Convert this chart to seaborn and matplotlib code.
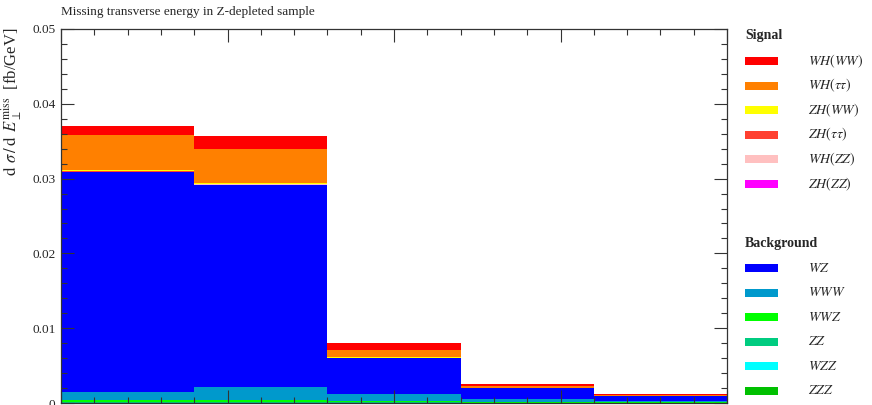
import numpy as np
import pandas as pd
import matplotlib
matplotlib.use("Agg")
import matplotlib.pyplot as plt
from matplotlib.patches import Rectangle
from matplotlib.ticker import MultipleLocator
import seaborn as sns

# ---- data ----
bin_edges = [0, 40, 80, 120, 160, 200]
bin_centres = [20, 60, 100, 140, 180]

signal_names = ["$WH(WW)$", "$WH(\\tau\\tau)$", "$ZH(WW)$", "$ZH(\\tau\\tau)$", "$WH(ZZ)$", "$ZH(ZZ)$"]
background_names = ["$WZ$", "$WWW$", "$WWZ$", "$ZZ$", "$WZZ$", "$ZZZ$"]

WH_WW = [0.00110, 0.00174, 0.00089, 0.00026, 0.00013]
WH_tautau = [0.00471, 0.00449, 0.00097, 0.00021, 0.00013]
ZH_WW = [0.00020, 0.00015, 0.00003, 0.00001, 0.000005]
ZH_tautau = [0.00005, 0.00004, 0.00001, 0.000005, 0.000003]
WH_ZZ = [0.00008, 0.00006, 0.00002, 0.00001, 0.000005]
ZH_ZZ = [0.000005, 0.000005, 0.000002, 0.000001, 0.000001]

WZ = [0.02941, 0.02703, 0.00484, 0.00147, 0.00066]
WWW = [0.00098, 0.00172, 0.00093, 0.00040, 0.00013]
WWZ = [0.00032, 0.00032, 0.00019, 0.00012, 0.00010]
ZZ = [0.00009, 0.00009, 0.00005, 0.00003, 0.00002]
WZZ = [0.00001, 0.00001, 0.00001, 0.000005, 0.000005]
ZZZ = [0.00003, 0.00003, 0.00002, 0.00001, 0.00001]

signal_values = [WH_WW, WH_tautau, ZH_WW, ZH_tautau, WH_ZZ, ZH_ZZ]
background_values = [WZ, WWW, WWZ, ZZ, WZZ, ZZZ]

signal_colors = ["#ff0000", "#ff8000", "#ffff00", "#ff4030", "#ffc0c0", "#ff00ff"]
background_colors = ["#0000ff", "#0099cc", "#00ff00", "#00cc80", "#00ffff", "#00c000"]

y_ticks = [0, 0.01, 0.02, 0.03, 0.04, 0.05]
y_tick_labels = ["0", "0.01", "0.02", "0.03", "0.04", "0.05"]

# ---- build table ----
names = signal_names + background_names
values = signal_values + background_values
colors = signal_colors + background_colors
rows = []
for n, vals in zip(names, values):
    for xc, v in zip(bin_centres, vals):
        rows.append({"x": xc, "w": v, "proc": n})
df = pd.DataFrame(rows)
palette = dict(zip(names, colors))

sns.set_style("ticks")
plt.rcParams["font.family"] = ["Liberation Serif", "DejaVu Serif"]
plt.rcParams["mathtext.fontset"] = "stix"

fig = plt.figure(figsize=(8.72, 4.05), dpi=100)
ax = fig.add_axes([61 / 872, 1 - 403 / 405, (727 - 61) / 872, (403 - 29) / 405])

sns.histplot(data=df, x="x", weights="w", hue="proc", hue_order=names,
             bins=bin_edges, multiple="stack", palette=palette,
             element="bars", fill=True, alpha=1, linewidth=0, shrink=1,
             legend=False, ax=ax)

ax.set_xlim(0, 200)
ax.set_ylim(0, 0.05)
ax.set_yticks(y_ticks)
ax.set_yticklabels(y_tick_labels)
ax.yaxis.set_minor_locator(MultipleLocator(0.002))
ax.xaxis.set_major_locator(MultipleLocator(50))
ax.xaxis.set_minor_locator(MultipleLocator(10))
ax.tick_params(which="both", direction="in", top=True, right=True,
               labelbottom=False, color="#333333", width=0.8)
ax.tick_params(which="major", length=9.5, labelsize=9.5, pad=4)
ax.tick_params(which="minor", length=4.5)
ax.set_xlabel("")
ax.set_ylabel("")
for s in ax.spines.values():
    s.set_linewidth(0.9)
    s.set_color("#333333")
    s.set_visible(True)
ax.set_axisbelow(False)

fig.text(12 / 872, 1 - 28 / 405,
         r"$\mathrm{d}\;\,\sigma\,/\,\mathrm{d}\;\,E_{\perp}^{\mathrm{miss}}$  [fb/GeV]",
         rotation=90, ha="center", va="top", fontsize=12)

fig.text(61 / 872, 1 - 12 / 405, "Missing transverse energy in Z-depleted sample",
         ha="left", va="center", fontsize=9.5)

# ---- legend ----
def legend_block(title, y0, nms, cols):
    fig.text(745 / 872, 1 - y0 / 405, title, ha="left", va="center",
             fontsize=10, fontweight="bold")
    for i, (n, c) in enumerate(zip(nms, cols)):
        yc = y0 + 25 + i * 24.6
        fig.patches.append(Rectangle((745 / 872, 1 - (yc + 4) / 405), 33 / 872, 8 / 405,
                                     transform=fig.transFigure, facecolor=c,
                                     edgecolor="none"))
        fig.text(808 / 872, 1 - yc / 405, n, ha="left", va="center", fontsize=10)

legend_block("Signal", 36, signal_names, signal_colors)
legend_block("Background", 243, background_names, background_colors)

fig.savefig("out.png", dpi=100)
